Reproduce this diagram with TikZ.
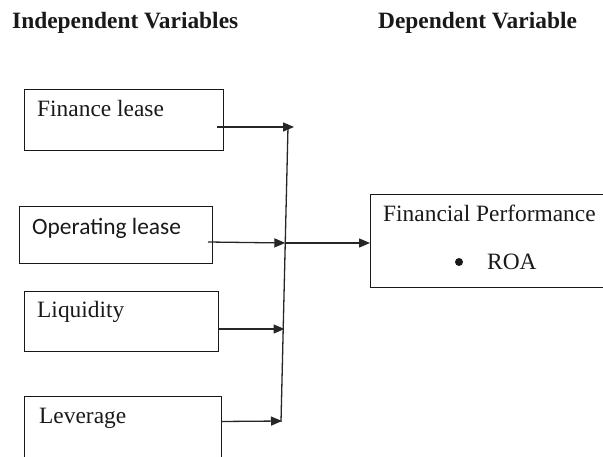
\documentclass[tikz,border=0pt]{standalone}
\usepackage{fontspec}
\setmainfont{Liberation Serif}
\newfontfamily\calfont{Carlito}
\usetikzlibrary{arrows.meta}
\begin{document}
\begin{tikzpicture}[x=1pt,y=-1pt,
  varbox/.style={draw=black!90,line width=1.2pt,rectangle,inner sep=0pt,anchor=north west},
  lbl/.style={anchor=base west,inner sep=0pt,font=\fontsize{23.4}{27}\selectfont,text=black!90},
  hdr/.style={anchor=base west,inner sep=0pt,font=\fontsize{23.4}{27}\selectfont\bfseries,text=black!90},
  conn/.style={draw=black!85,line width=1.3pt},
  arr/.style={conn,-{Triangle[length=11pt,width=9pt]}}]
\useasboundingbox (0,0) rectangle (603,457);
\clip (0,0) rectangle (603,457);
% headers
\node[hdr] (hind) at (12,29) {Independent Variables};
\node[hdr] (hdep) at (378,29) {Dependent Variable};
% boxes
\node[varbox,minimum width=199pt,minimum height=61pt] (fin) at (24,89) {};
\node[varbox,minimum width=193pt,minimum height=57pt] (op) at (19,206) {};
\node[varbox,minimum width=194pt,minimum height=60pt] (liq) at (24,291) {};
\node[varbox,minimum width=197pt,minimum height=90pt] (lev) at (24,396) {};
\node[varbox,minimum width=250pt,minimum height=93pt] (fp) at (370,194) {};
% texts
\node[lbl] (tfin) at (37,116.5) {Finance lease};
\node[lbl,font=\fontsize{23.4}{27}\selectfont\calfont] (top) at (32,235) {Operating lease};
\node[lbl] (tliq) at (37,318) {Liquidity};
\node[lbl] (tlev) at (39,423) {Leverage};
\node[lbl] (tfp) at (383,222) {Financial Performance};
\node[lbl] (troa) at (487,270) {ROA};
\node[circle,fill=black!90,inner sep=0pt,minimum size=8pt] (bul) at (459,262) {};
% connector geometry
\coordinate (vtop) at (288,127);
\coordinate (vbot) at (281,422);
\coordinate (sfin) at (217,127);
\coordinate (tipfin) at (294,127);
\coordinate (sop) at (208,242);
\coordinate (junc) at (285.3,243);
\coordinate (sliq) at (218,329);
\coordinate (tipliq) at (284.5,329);
\coordinate (slev) at (221,421.5);
\coordinate (tiplev) at (282,421);
\draw[conn] (vtop) -- (vbot);
\draw[arr] (sfin) -- (tipfin);
\draw[arr] (sop) -- (junc);
\draw[arr] (sliq) -- (tipliq);
\draw[arr] (slev) -- (tiplev);
\draw[arr] (junc) -- (fp.west |- junc);
\end{tikzpicture}
\end{document}
